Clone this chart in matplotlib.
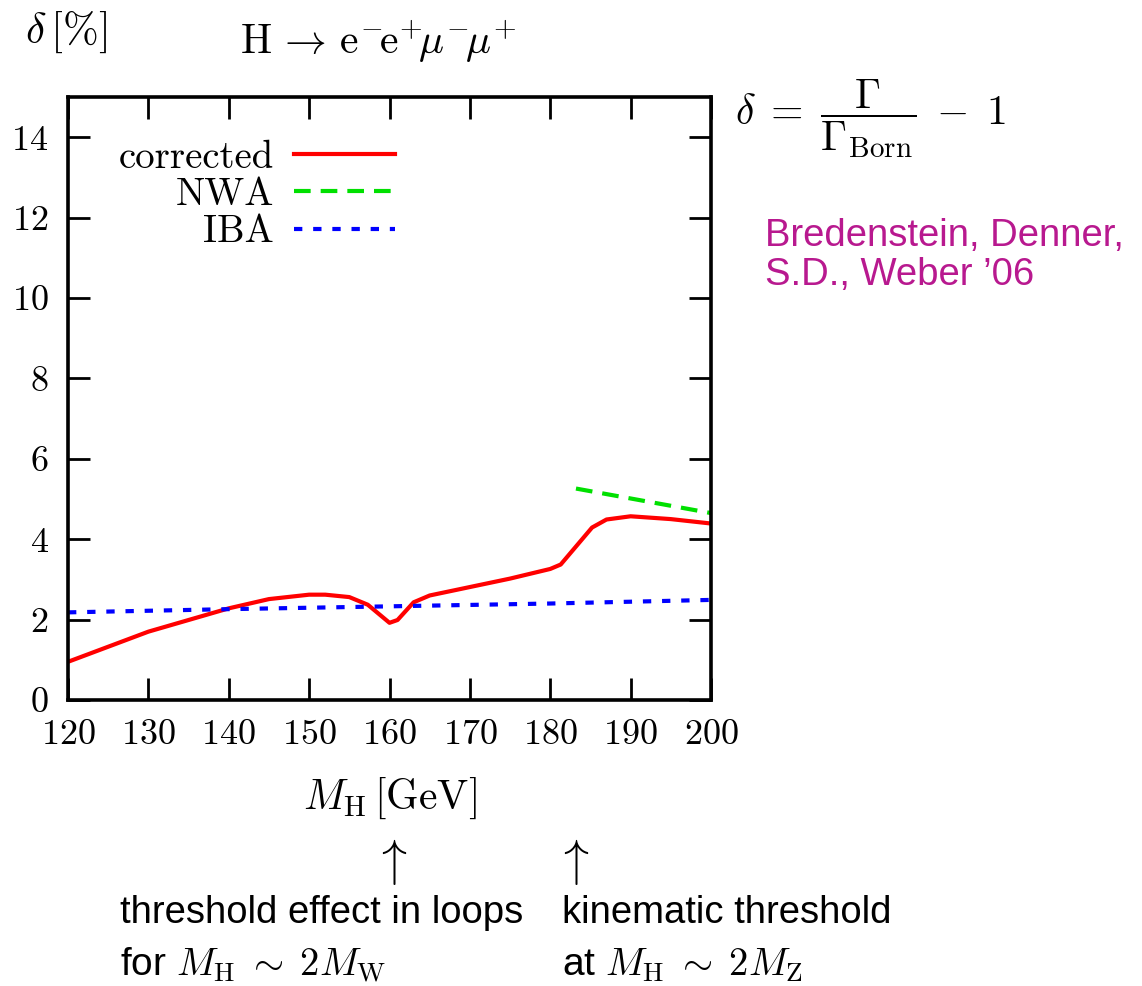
import matplotlib
matplotlib.use("Agg")
import matplotlib.pyplot as plt

plt.rcParams['mathtext.fontset'] = 'cm'
plt.rcParams['font.family'] = 'cmr10'
plt.rcParams['axes.formatter.use_mathtext'] = True
plt.rcParams['axes.unicode_minus'] = False

# Data
mh_corr = [120, 130, 140, 145, 150, 152, 155, 157.3, 160, 161, 163, 165, 170, 175, 180, 181.3, 185.2, 187, 190, 195, 200]
d_corr = [0.95, 1.70, 2.28, 2.51, 2.62, 2.62, 2.56, 2.37, 1.92, 1.99, 2.43, 2.60, 2.81, 3.02, 3.26, 3.37, 4.29, 4.49, 4.57, 4.50, 4.39]
mh_nwa = [183.2, 200]
d_nwa = [5.26, 4.65]
mh_iba = [120, 140, 160, 180, 200]
d_iba = [2.18, 2.26, 2.33, 2.40, 2.49]

xticks = [120, 130, 140, 150, 160, 170, 180, 190, 200]
yticks = [0, 2, 4, 6, 8, 10, 12, 14]

W, H = 1142, 986
fig = plt.figure(figsize=(W / 100, H / 100), dpi=100)
ax = fig.add_axes([68 / W, 1 - 700 / H, 643 / W, 603 / H])

lw = 3.0
ax.plot(mh_corr, d_corr, color='#FF0000', lw=lw, label='corrected', solid_joinstyle='round')
ax.plot(mh_nwa, d_nwa, color='#00E000', lw=lw, ls=(0, (4.0, 2.4)), label='NWA')
ax.plot(mh_iba, d_iba, color='#0000FF', lw=lw, ls=(0, (2.0, 2.6)), label='IBA')

ax.set_xlim(120, 200)
ax.set_ylim(0, 15)
ax.set_xticks(xticks)
ax.set_yticks(yticks)
ax.tick_params(direction='in', length=16, width=2, top=True, right=True,
               labelsize=26, pad=14)
for lab in ax.get_xticklabels() + ax.get_yticklabels():
    lab.set_fontfamily('cmr10')
for s in ax.spines.values():
    s.set_linewidth(2.6)

leg = ax.legend(loc='upper left', bbox_to_anchor=(0.055, 0.955), frameon=False,
                markerfirst=False, prop={'family': 'cmr10', 'size': 28},
                handlelength=2.6, handletextpad=0.5, labelspacing=0.04,
                borderaxespad=0.0)
for t in leg.get_texts():
    t.set_ha('right')

# Texts
fig.text(25 / W, 1 - 32 / H, r'$\delta\,[\%]$', fontsize=31, va='center', ha='left')
fig.text(240 / W, 1 - 42 / H,
         r'$\mathrm{H} \,\rightarrow\, \mathrm{e}^{-}\!\mathrm{e}^{+}\!\mu^{-}\!\mu^{+}$',
         fontsize=30, va='center', ha='left')
fig.text(735 / W, 1 - 119 / H,
         r'$\delta \;=\; \dfrac{\Gamma}{\Gamma_{\mathrm{Born}}} \;-\; 1$',
         fontsize=30, va='center', ha='left')
fig.text(765 / W, 1 - 218 / H, 'Bredenstein, Denner,\nS.D., Weber \u201906',
         fontsize=27.5, va='top', ha='left', color='#B8198F',
         family='Liberation Sans', linespacing=1.1)
fig.text(390 / W, 1 - 798 / H, r'$M_{\mathrm{H}}\,[\mathrm{GeV}]$', fontsize=30,
         va='center', ha='center')
fig.text(390 / W, 1 - 862 / H, r'$\uparrow$', fontsize=36, va='center', ha='center')
fig.text(572 / W, 1 - 862 / H, r'$\uparrow$', fontsize=36, va='center', ha='center')
fig.text(120 / W, 1 - 913 / H, 'threshold effect in loops', fontsize=27.5,
         va='center', ha='left', family='Liberation Sans')
fig.text(120 / W, 1 - 965 / H, r'for $M_{\mathrm{H}}\;\sim\;2M_{\mathrm{W}}$', fontsize=28,
         va='center', ha='left', family='Liberation Sans')
fig.text(562 / W, 1 - 913 / H, 'kinematic threshold', fontsize=27.5,
         va='center', ha='left', family='Liberation Sans')
fig.text(562 / W, 1 - 965 / H, r'at $M_{\mathrm{H}}\;\sim\;2M_{\mathrm{Z}}$', fontsize=28,
         va='center', ha='left', family='Liberation Sans')

fig.savefig('out.png', dpi=100)
